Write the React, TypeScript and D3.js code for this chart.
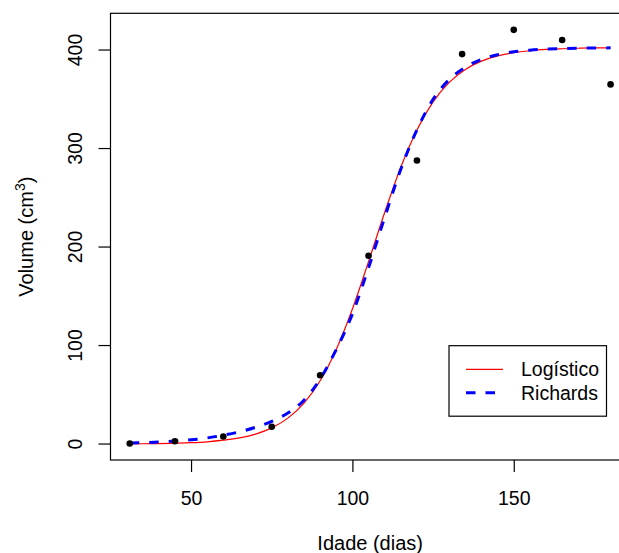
import React, { useEffect, useRef } from "react";
import * as d3 from "d3";

// observed data (age in days, volume in cm3)
const idade = [31, 45, 60, 75, 90, 105, 120, 134, 150, 165, 180];
const volume = [0.6, 2.9, 7.7, 17.5, 69.8, 191.1, 287.8, 395.9, 420.5, 410.2, 365.1];

// fitted curves
const idadeCurva = [31, 35, 40, 45, 50, 55, 60, 65, 70, 75, 80, 85, 90, 95, 100, 105, 110, 115, 120, 125, 130, 135, 140, 145, 150, 155, 160, 165, 170, 175, 180];
const logistico = [0.2, 0.3, 0.5, 0.9, 1.4, 2.3, 3.9, 6.2, 10.1, 16.4, 26.3, 41.6, 64.3, 96.1, 137.1, 185.2, 235.1, 281.1, 318.9, 347.3, 367.1, 380.3, 388.7, 394.0, 397.3, 399.3, 400.6, 401.3, 401.8, 402.1, 402.2];
const richards = [1.0, 1.4, 2.0, 3.0, 4.3, 6.2, 9.0, 12.4, 17.0, 23.0, 31.5, 44.5, 66, 96, 132, 179, 230, 279, 319, 350, 370, 382.5, 390.5, 395.3, 398.2, 399.9, 400.9, 401.5, 401.9, 402.1, 402.2];

const xTicks = [50, 100, 150];
const yTicks = [0, 100, 200, 300, 400];

const legendLabels = ["Logístico", "Richards"];

const W = 619;
const H = 553;
const font = "'Liberation Sans', Arial, sans-serif";

const App = () => {
  const svgRef = useRef<SVGSVGElement>(null);

  useEffect(() => {
    const svg = d3.select(svgRef.current);
    svg.selectAll("*").remove();

    // R style 4% padding around the data range
    const pad = (ext: [number, number]) => {
      const d = (ext[1] - ext[0]) * 0.04;
      return [ext[0] - d, ext[1] + d];
    };
    const xScale = d3
      .scaleLinear()
      .domain(pad(d3.extent(idade) as [number, number]))
      .range([110.5, 629.8]);
    const yScale = d3
      .scaleLinear()
      .domain(pad(d3.extent(volume) as [number, number]))
      .range([460, 13.3]);

    const [x0, x1] = xScale.range();
    const [y0, y1] = yScale.range();

    // box
    svg
      .append("rect")
      .attr("x", x0)
      .attr("y", y1)
      .attr("width", x1 - x0)
      .attr("height", y0 - y1)
      .attr("fill", "none")
      .attr("stroke", "#000")
      .attr("stroke-width", 1.2);

    // x axis
    const xAxis = d3.axisBottom(xScale).tickValues(xTicks).tickSize(12).tickPadding(19);
    svg
      .append("g")
      .attr("transform", `translate(0,${y0})`)
      .call(xAxis)
      .call((g) => g.select(".domain").remove())
      .call((g) => g.selectAll("line").attr("stroke", "#000").attr("stroke-width", 1.2))
      .call((g) =>
        g.selectAll("text").attr("font-family", font).attr("font-size", 19.5).attr("fill", "#000")
      );

    // y axis, labels turned like R's las=0
    const yg = svg.append("g");
    yg.selectAll("line")
      .data(yTicks)
      .join("line")
      .attr("x1", x0 - 12)
      .attr("x2", x0)
      .attr("y1", (d) => yScale(d))
      .attr("y2", (d) => yScale(d))
      .attr("stroke", "#000")
      .attr("stroke-width", 1.2);
    yg.selectAll("text")
      .data(yTicks)
      .join("text")
      .attr("transform", (d) => `translate(81.5,${yScale(d)}) rotate(-90)`)
      .attr("text-anchor", "middle")
      .attr("font-family", font)
      .attr("font-size", 19.5)
      .text((d) => d);

    // axis titles
    svg
      .append("text")
      .attr("x", (x0 + x1) / 2)
      .attr("y", 550)
      .attr("text-anchor", "middle")
      .attr("font-family", font)
      .attr("font-size", 20)
      .text("Idade (dias)");

    const yt = svg
      .append("text")
      .attr("transform", `translate(33,${(y0 + y1) / 2}) rotate(-90)`)
      .attr("text-anchor", "middle")
      .attr("font-family", font)
      .attr("font-size", 20);
    yt.append("tspan").text("Volume (cm");
    yt.append("tspan").attr("font-size", 14).attr("dy", -8).text("3");
    yt.append("tspan").attr("dy", 8).text(")");

    // curves
    const line = (vals: number[]) =>
      d3
        .line<number>()
        .x((d, i) => xScale(idadeCurva[i]))
        .y((d) => yScale(d))
        .curve(d3.curveMonotoneX)(vals);

    svg
      .append("path")
      .attr("d", line(logistico))
      .attr("fill", "none")
      .attr("stroke", "#ff0000")
      .attr("stroke-width", 1.2);

    svg
      .append("path")
      .attr("d", line(richards))
      .attr("fill", "none")
      .attr("stroke", "#0000ff")
      .attr("stroke-width", 3)
      .attr("stroke-dasharray", "9.5 10");

    // points
    svg
      .append("g")
      .selectAll("circle")
      .data(volume)
      .join("circle")
      .attr("cx", (d, i) => xScale(idade[i]))
      .attr("cy", (d) => yScale(d))
      .attr("r", 3.3)
      .attr("fill", "#000");

    // legend
    const lg = svg.append("g");
    lg.append("rect")
      .attr("x", 449)
      .attr("y", 345.7)
      .attr("width", 157.5)
      .attr("height", 70.5)
      .attr("fill", "#fff")
      .attr("stroke", "#000")
      .attr("stroke-width", 1.2);
    const colors = ["#ff0000", "#0000ff"];
    const widths = [1.2, 3];
    const dashes = [null, "9.5 10"];
    legendLabels.forEach((lab, i) => {
      const yy = 369.3 + i * 23.4;
      lg.append("line")
        .attr("x1", 466)
        .attr("x2", 503)
        .attr("y1", yy)
        .attr("y2", yy)
        .attr("stroke", colors[i])
        .attr("stroke-width", widths[i])
        .attr("stroke-dasharray", dashes[i]);
      lg.append("text")
        .attr("x", 521)
        .attr("y", yy + 7)
        .attr("font-family", font)
        .attr("font-size", 19.5)
        .text(lab);
    });
  }, []);

  return (
    <div style={{ position: "absolute", left: 0, top: 0 }}>
      <svg ref={svgRef} width={W} height={H} style={{ display: "block", background: "#fff" }} />
    </div>
  );
};

export default App;
